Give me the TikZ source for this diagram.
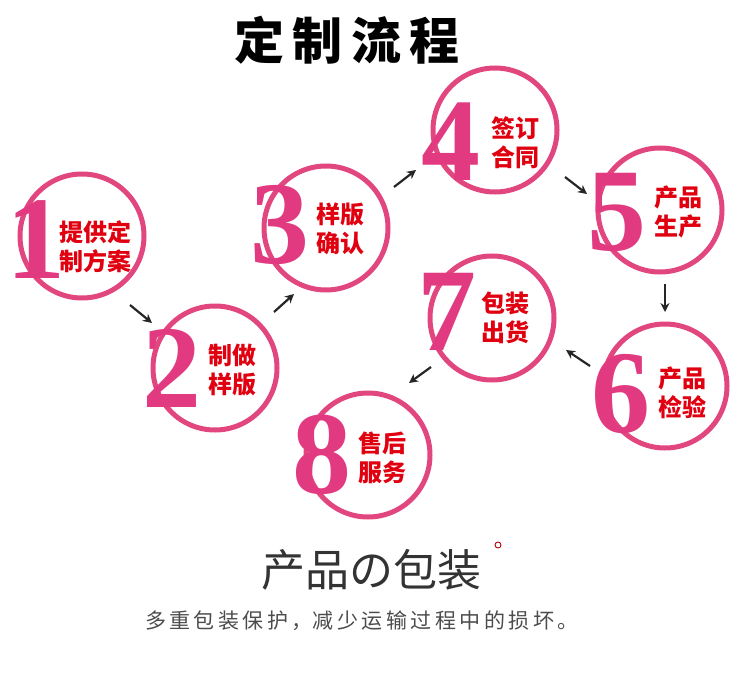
\documentclass[tikz,border=0pt]{standalone}
\usepackage{fontspec}
\newfontfamily\cjk{Noto Sans CJK SC}
\newfontfamily\dig{Liberation Serif}
\usetikzlibrary{arrows.meta}
\definecolor{ring}{HTML}{E2467F}
\definecolor{txt}{HTML}{E00010}
\definecolor{numc}{HTML}{E23A80}
\tikzset{
 ringc/.style={circle,draw=ring,line width=5pt,fill=white,minimum size=#1},
 lab/.style={font=\cjk\bfseries\fontsize{24}{29}\selectfont,text=txt,align=center},
 num/.style={font=\dig\bfseries\fontsize{118}{118}\selectfont,text=numc},
 arr/.style={-{Stealth[length=9pt,width=9pt]},line width=2.2pt,black!85}
}
\begin{document}
\begin{tikzpicture}[x=1pt,y=-1pt]
\useasboundingbox (0,0) rectangle (750,690);
\node[font=\cjk\bfseries\fontsize{50}{50}\selectfont] (title) at (347,40) {定\,制\,流\,程};
\foreach \n/\cx/\cy/\dx/\dy/\tx/\ty/\t in {
 1/82/236/36/240/95/247/{提供定\\制方案},
 2/215/368/172/368/232/370/{制做\\样版},
 3/326/228/280/225/340/229/{样版\\确认},
 4/495/130/451/142/515/143/{签订\\合同},
 5/660/210/617/212/678/212/{产品\\生产},
 6/665/386/621/394/682/393/{产品\\检验},
 7/492/318/447/312/505/318/{包装\\出货},
 8/368/455/322/455/382/458/{售后\\服务}}{
 \node[ringc=124pt] (c\n) at (\cx,\cy) {};
 \node[num] (d\n) at (\dx,\dy) {\n};
 \node[lab] (t\n) at (\tx,\ty) {\t};
}
\coordinate (a1) at (130,305); \coordinate (b1) at (152,323);
\coordinate (a2) at (274,312); \coordinate (b2) at (294,294);
\coordinate (a3) at (394,187); \coordinate (b3) at (416,170);
\coordinate (a4) at (565,177); \coordinate (b4) at (587,194);
\coordinate (a5) at (665,284); \coordinate (b5) at (665,312);
\coordinate (a6) at (590,366); \coordinate (b6) at (566,350);
\coordinate (a7) at (431,367); \coordinate (b7) at (409,383);
\foreach \i in {1,...,7}{\draw[arr] (a\i) -- (b\i);}
\node[font=\cjk\fontsize{44}{44}\selectfont,text=black!80] (sub) at (371,570) {产品の包装};
\node[circle,draw=txt!80!black,line width=0.9pt,minimum size=6pt,inner sep=0pt] (dot) at (498,545) {};
\node[font=\cjk\fontsize{21}{21}\selectfont,text=black!70] (desc) at (362,621) {多\,重\,包\,装\,保\,护\,，减\,少\,运\,输\,过\,程\,中\,的\,损\,坏\,。};
\end{tikzpicture}
\end{document}
